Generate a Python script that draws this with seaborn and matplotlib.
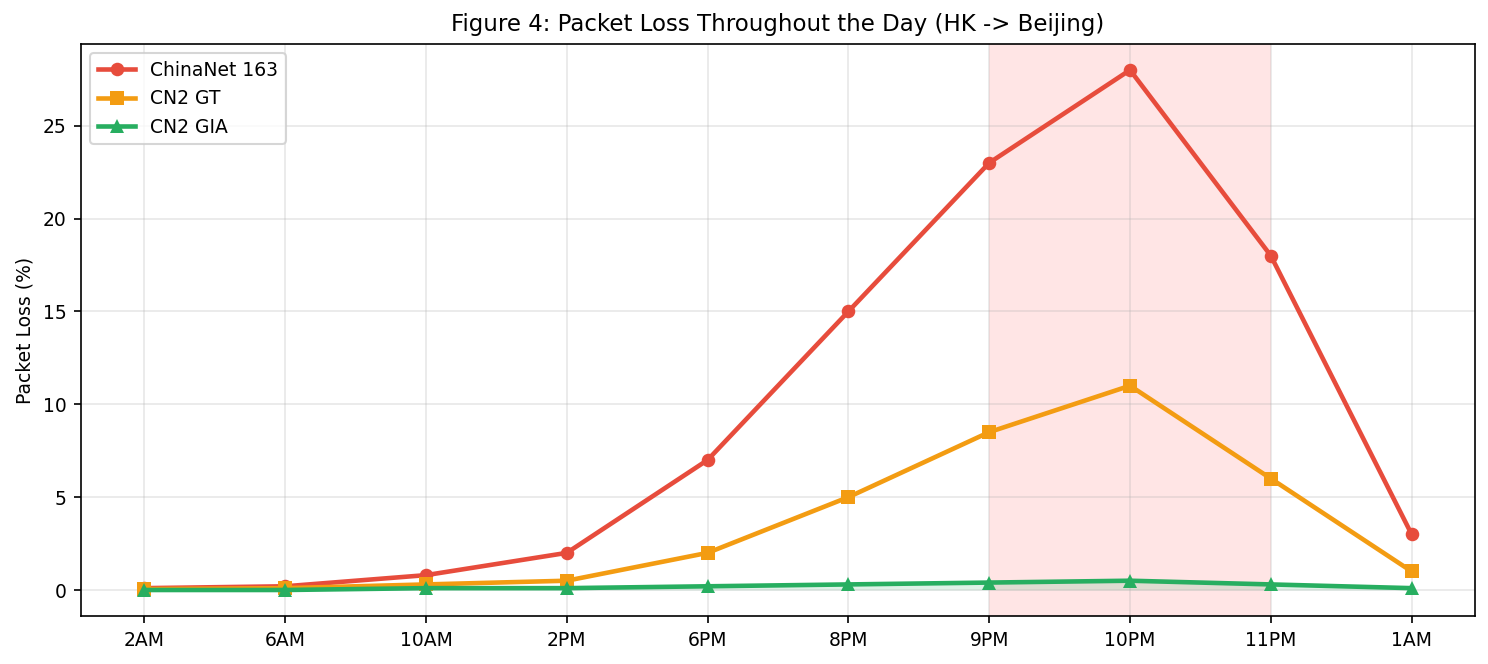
import matplotlib
matplotlib.use("Agg")
import matplotlib.pyplot as plt
import seaborn as sns
import pandas as pd
import numpy as np

hours = ["2AM", "6AM", "10AM", "2PM", "6PM", "8PM", "9PM", "10PM", "11PM", "1AM"]
chinanet = [0.1, 0.2, 0.8, 2.0, 7.0, 15.0, 23.0, 28.0, 18.0, 3.0]
cn2_gt = [0.05, 0.1, 0.3, 0.5, 2.0, 5.0, 8.5, 11.0, 6.0, 1.0]
cn2_gia = [0.0, 0.0, 0.1, 0.1, 0.2, 0.3, 0.4, 0.5, 0.3, 0.1]
series_names = ["ChinaNet 163", "CN2 GT", "CN2 GIA"]
colors = ["#e74c3c", "#f39c12", "#27ae60"]
markers = ["o", "s", "^"]
peak_start, peak_end = "9PM", "11PM"

pos = list(range(len(hours)))
df = pd.DataFrame({
    "pos": pos * 3,
    "loss": chinanet + cn2_gt + cn2_gia,
    "series": sum([[n] * len(hours) for n in series_names], []),
})

fig = plt.figure(figsize=(1489 / 150, 664 / 150), dpi=150)
ax = fig.add_axes([81 / 1489, 1 - 616 / 664, (1475 - 81) / 1489, (616 - 44) / 664])

ax.axvspan(hours.index(peak_start), hours.index(peak_end), color="red", alpha=0.1, lw=0)

sns.lineplot(data=df, x="pos", y="loss", hue="series", style="series",
             hue_order=series_names, style_order=series_names,
             palette=dict(zip(series_names, colors)),
             markers=dict(zip(series_names, markers)), dashes=False,
             linewidth=2.2, markersize=6.5, markeredgewidth=0, ax=ax)
ax.fill_between(pos, 0, cn2_gia, color=colors[2], alpha=0.15, lw=0)

ax.set_xticks(pos)
ax.set_xticklabels(hours)
ax.tick_params(labelsize=9)
ax.set_xlabel("")
ax.set_ylabel("Packet Loss (%)", fontsize=9)
ax.set_title("Figure 4: Packet Loss Throughout the Day (HK -> Beijing)", fontsize=11)
ax.grid(True, alpha=0.3)
ax.legend(loc="upper left", fontsize=9, title=None)

fig.savefig("out.png", dpi=150)
